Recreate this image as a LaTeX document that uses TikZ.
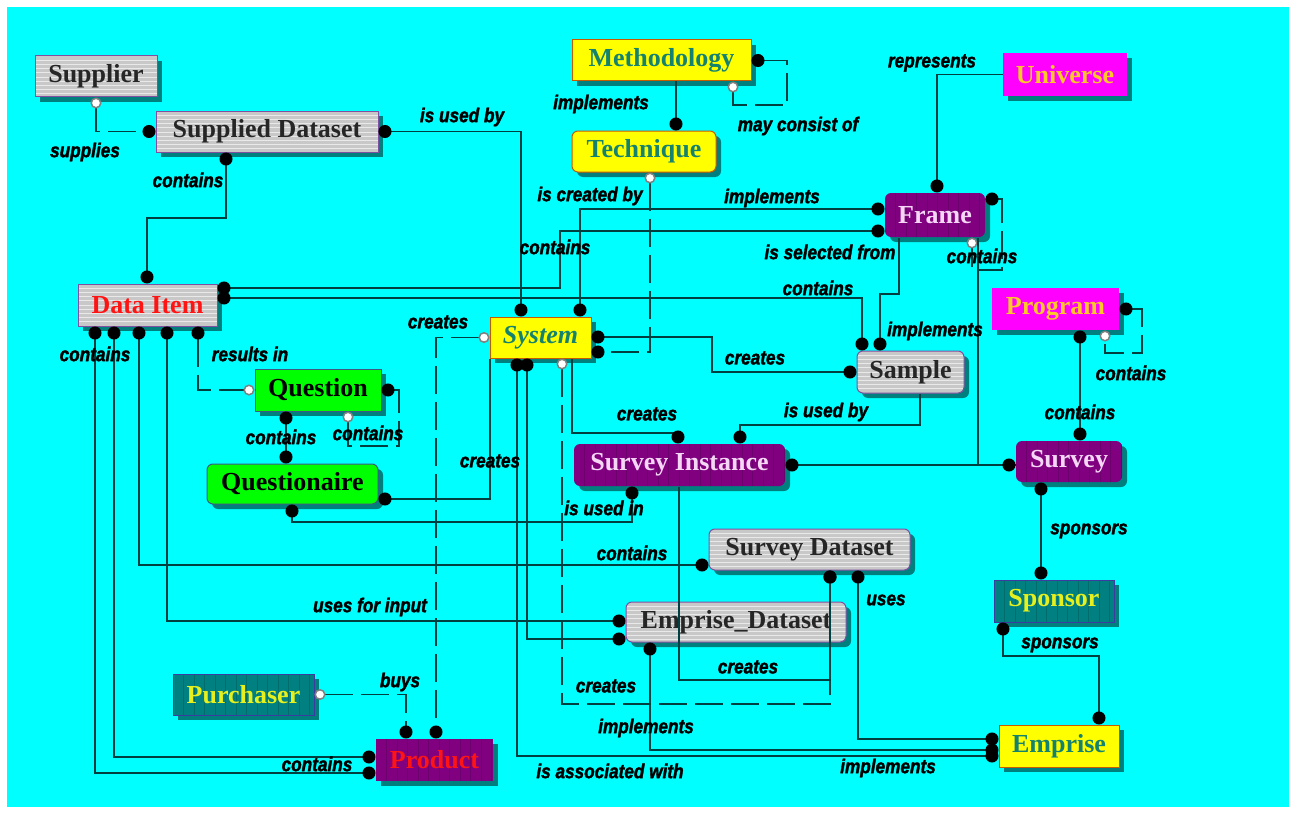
\documentclass[tikz,border=0pt]{standalone}
\usepackage{fontspec}
\setmainfont{Liberation Serif}
\newfontfamily\lblfont[FakeStretch=0.86,FakeBold=1.6]{Liberation Sans}
\usetikzlibrary{arrows.meta,shadows}

\definecolor{bgcyan}{RGB}{0,255,255}
\definecolor{lncol}{RGB}{0,64,64}
\definecolor{boxgray}{RGB}{200,200,200}
\definecolor{graybd}{RGB}{128,80,160}
\definecolor{ylw}{RGB}{255,255,0}
\definecolor{ylwbd}{RGB}{200,90,0}
\definecolor{grn}{RGB}{0,255,0}
\definecolor{grnbd}{RGB}{60,90,130}
\definecolor{prp}{RGB}{128,0,128}
\definecolor{prpst}{RGB}{108,0,108}
\definecolor{mag}{RGB}{255,0,255}
\definecolor{tl}{RGB}{0,128,128}
\definecolor{tlst}{RGB}{0,108,108}
\definecolor{tlbd}{RGB}{60,60,160}
\definecolor{tealtxt}{RGB}{20,130,110}
\definecolor{pinktxt}{RGB}{245,215,245}
\definecolor{orgtxt}{RGB}{255,200,40}
\definecolor{redtxt}{RGB}{255,20,20}
\definecolor{ylwtxt}{RGB}{230,240,30}

\tikzset{
  bdot/.tip={Circle[length=13pt,color=black]},
  wdot/.tip={Circle[open,length=11pt,fill=white,color=gray]},
  sz/.style 2 args={minimum width=#1pt, minimum height=#2pt},
  ent/.style={inner sep=0pt, font=\fontsize{26}{28}\selectfont\bfseries, line width=1pt,
    drop shadow={shadow xshift=5pt, shadow yshift=-5pt, opacity=0.5, fill=black}},
  hstr/.style={path picture={\foreach \k in {1,...,10}{\draw[white!60!boxgray, line width=0.7pt]
      ([yshift=-\k*4.2pt]path picture bounding box.north west) -- ([yshift=-\k*4.2pt]path picture bounding box.north east);}}},
  vstr/.style={path picture={\foreach \k in {1,...,22}{\draw[#1, line width=1pt]
      ([xshift=\k*10.5pt]path picture bounding box.north west) -- ([xshift=\k*10.5pt]path picture bounding box.south west);}}},
  rc/.style={rounded corners=6pt},
  gbox/.style={ent, fill=boxgray, draw=graybd, hstr, text=black!85},
  ybox/.style={ent, fill=ylw, draw=ylwbd, text=tealtxt},
  gnbox/.style={ent, fill=grn, draw=grnbd, text=black},
  pbox/.style={ent, fill=prp, vstr=prpst, text=pinktxt},
  mbox/.style={ent, fill=mag, text=orgtxt},
  tbox/.style={ent, fill=tl, draw=tlbd, vstr=tlst, text=ylwtxt},
  conn/.style={draw=lncol, line width=1.5pt},
  dsh/.style={conn, dash pattern=on 28pt off 8pt},
  lbl/.style={font=\lblfont\fontsize{20}{22}\selectfont\bfseries\itshape, inner sep=0pt, text=black},
}

\begin{document}
\begin{tikzpicture}[x=1pt, y=-1pt]
\useasboundingbox (0,0) rectangle (1294,816);
\fill[white] (0,0) rectangle (1294,816);
\fill[bgcyan] (7,7) rectangle (1289,807);

% entities
\node[gbox, sz={122}{41}] (sup) at (96,76.5) {Supplier};
\node[gbox, sz={222}{41}] (sd) at (267,131.5) {Supplied Dataset};
\node[ybox, sz={179}{41}] (meth) at (661.5,60.5) {Methodology};
\node[ybox, rc, sz={144}{41}] (tech) at (644,151.5) {Technique};
\node[mbox, sz={124}{43}] (uni) at (1065,74.5) {Universe};
\node[pbox, rc, sz={100}{44}] (frame) at (935,215) {Frame};
\node[gbox, sz={139}{42}, text=redtxt] (di) at (147.5,305) {Data Item};
\node[gnbox, sz={126}{42}] (q) at (318,390) {Question};
\node[gnbox, rc, sz={171}{40}] (qn) at (292.5,484) {Questionaire};
\node[ybox, sz={101}{41}, font=\fontsize{26}{28}\selectfont\bfseries\itshape] (sys) at (540.5,337.5) {System};
\node[pbox, rc, sz={211}{42}] (si) at (679.5,465) {Survey Instance};
\node[gbox, rc, sz={107}{42}] (samp) at (910.5,372) {Sample};
\node[mbox, sz={127}{42}] (prog) at (1055.5,309) {Program};
\node[pbox, rc, sz={106}{41}] (surv) at (1069,461.5) {Survey};
\node[gbox, rc, sz={201}{41}] (sds) at (809.5,549.5) {Survey Dataset};
\node[gbox, rc, sz={220}{40}] (ed) at (736,622) {Emprise\_Dataset};
\node[tbox, sz={120}{42}] (spon) at (1054,601) {Sponsor};
\node[ybox, sz={120}{42}] (emp) at (1059,746) {Emprise};
\node[tbox, sz={141}{41}] (pur) at (243.5,694.5) {Purchaser};
\node[pbox, sz={117}{42}, text=redtxt] (prod) at (434.5,760) {Product};

% relationships
\draw[dsh, wdot-bdot] (sup.south -| 96,0) |- (sd.west);
\draw[conn, bdot-bdot] (sd.south -| 226,0) -- (226,218) -| (di.north -| 147,0);
\draw[conn, bdot-bdot] (sd.east) -| (sys.north -| 521,0);
\draw[conn, -bdot] (meth.south -| 676,0) -- (tech.north -| 676,0);
\draw[dsh, bdot-wdot] (meth.east) -- (787,60.5) |- (733,105) -- (meth.south -| 733,0);
\draw[dsh, wdot-bdot] (tech.south -| 650,0) |- (sys.east |- 0,352);
\draw[conn, bdot-bdot] (sys.east |- 0,337) -- (712,337) |- (samp.west);
\draw[conn, bdot-bdot] (frame.west |- 0,209) -| (sys.north -| 580,0);
\draw[conn, bdot-bdot] (frame.west |- 0,231) -| (560,288) -- (di.east |- 0,288);
\draw[conn, bdot-bdot] (di.east |- 0,298) -| (samp.north -| 862,0);
\draw[conn, bdot-] (samp.north -| 880,0) -- (880,294) -| (frame.south -| 899,0);
\draw[dsh, bdot-wdot] (frame.east |- 0,199) -- (1002,199) |- (972,270) -- (frame.south -| 972,0);
\draw[conn] (frame.south -| 978,0) |- (surv.west |- si.east);
\draw[conn, bdot-bdot] (si.east) -- (surv.west |- si.east);
\draw[conn, -bdot] (uni.west) -| (frame.north -| 937,0);
\draw[dsh, bdot-wdot] (prog.east) -- (1142,309) |- (1105,353) -- (prog.south -| 1105,0);
\draw[conn, bdot-bdot] (prog.south -| 1080,0) -- (surv.north -| 1080,0);
\draw[conn, bdot-bdot] (surv.south -| 1041,0) -- (spon.north -| 1041,0);
\draw[conn, bdot-bdot] (spon.south -| 1003,0) |- (1099,656) -- (emp.north -| 1099,0);
\draw[conn, bdot-bdot] (sds.south -| 858,0) |- (emp.west |- 0,739);
\draw[conn, bdot-bdot] (ed.south -| 650,0) |- (emp.west |- 0,750);
\draw[conn, bdot-bdot] (sys.south -| 517,0) |- (emp.west |- 0,756);
\draw[conn, bdot-bdot] (sys.south -| 527,0) |- (ed.west |- 0,639);
\draw[conn, -bdot] (sys.south -| 572,0) |- (678,433) -- (si.north -| 678,0);
\draw[conn, -bdot] (samp.south -| 920,0) |- (740,425) -- (si.north -| 740,0);
\draw[conn, bdot-bdot] (si.south -| 632,0) |- (292,522) -- (qn.south -| 292,0);
\draw[conn, -bdot] (si.south -| 679,0) |- (830,680) -- (sds.south -| 830,0);
\draw[dsh, wdot-bdot] (sys.south -| 562,0) |- (830,704) -- (sds.south -| 830,0);
\draw[conn, bdot-] (qn.east |- 0,499) -| (sys.south -| 490,0);
\draw[dsh, wdot-bdot] (sys.west) -| (prod.north -| 436,0);
\draw[dsh, wdot-bdot] (pur.east) -| (prod.north -| 406,0);
\draw[dsh, bdot-wdot] (di.south -| 198,0) |- (q.west);
\draw[conn, bdot-bdot] (di.south -| 167,0) |- (ed.west |- 0,621);
\draw[conn, bdot-bdot] (di.south -| 139,0) |- (sds.west |- 0,565);
\draw[conn, bdot-bdot] (di.south -| 114,0) |- (prod.west |- 0,757);
\draw[conn, bdot-bdot] (di.south -| 95,0) |- (prod.west |- 0,773);
\draw[dsh, bdot-wdot] (q.east) -- (399,390) |- (348,446) -- (q.south -| 348,0);
\draw[conn, bdot-bdot] (q.south -| 286,0) -- (qn.north -| 286,0);

% relationship names
\node[lbl] (l1) at (85,152) {supplies};
\node[lbl] (l2) at (188,180) {contains};
\node[lbl] (l3) at (462,117) {is used by};
\node[lbl] (l4) at (601,104) {implements};
\node[lbl] (l5) at (798,126) {may consist of};
\node[lbl] (l6) at (590,196) {is created by};
\node[lbl] (l7) at (772,198) {implements};
\node[lbl] (l8) at (555,247) {contains};
\node[lbl] (l9) at (830,252) {is selected from};
\node[lbl] (l10) at (982,256) {contains};
\node[lbl] (l11) at (932,63) {represents};
\node[lbl] (l12) at (818,288) {contains};
\node[lbl] (l13) at (935,331) {implements};
\node[lbl] (l14) at (438,322) {creates};
\node[lbl] (l15) at (755,358) {creates};
\node[lbl] (l16) at (250,354) {results in};
\node[lbl] (l17) at (95,354) {contains};
\node[lbl] (l18) at (281,437) {contains};
\node[lbl] (l19) at (368,433) {contains};
\node[lbl] (l20) at (647,414) {creates};
\node[lbl] (l21) at (826,412) {is used by};
\node[lbl] (l22) at (1080,412) {contains};
\node[lbl] (l23) at (1131,373) {contains};
\node[lbl] (l24) at (490,461) {creates};
\node[lbl] (l25) at (604,508) {is used in};
\node[lbl] (l26) at (1089,531) {sponsors};
\node[lbl] (l27) at (632,553) {contains};
\node[lbl] (l28) at (370,607) {uses for input};
\node[lbl] (l29) at (886,600) {uses};
\node[lbl] (l30) at (1060,645) {sponsors};
\node[lbl] (l31) at (748,667) {creates};
\node[lbl] (l32) at (606,686) {creates};
\node[lbl] (l33) at (400,682) {buys};
\node[lbl] (l34) at (646,728) {implements};
\node[lbl] (l35) at (317,764) {contains};
\node[lbl] (l36) at (610,771) {is associated with};
\node[lbl] (l37) at (888,768) {implements};
\end{tikzpicture}
\end{document}
